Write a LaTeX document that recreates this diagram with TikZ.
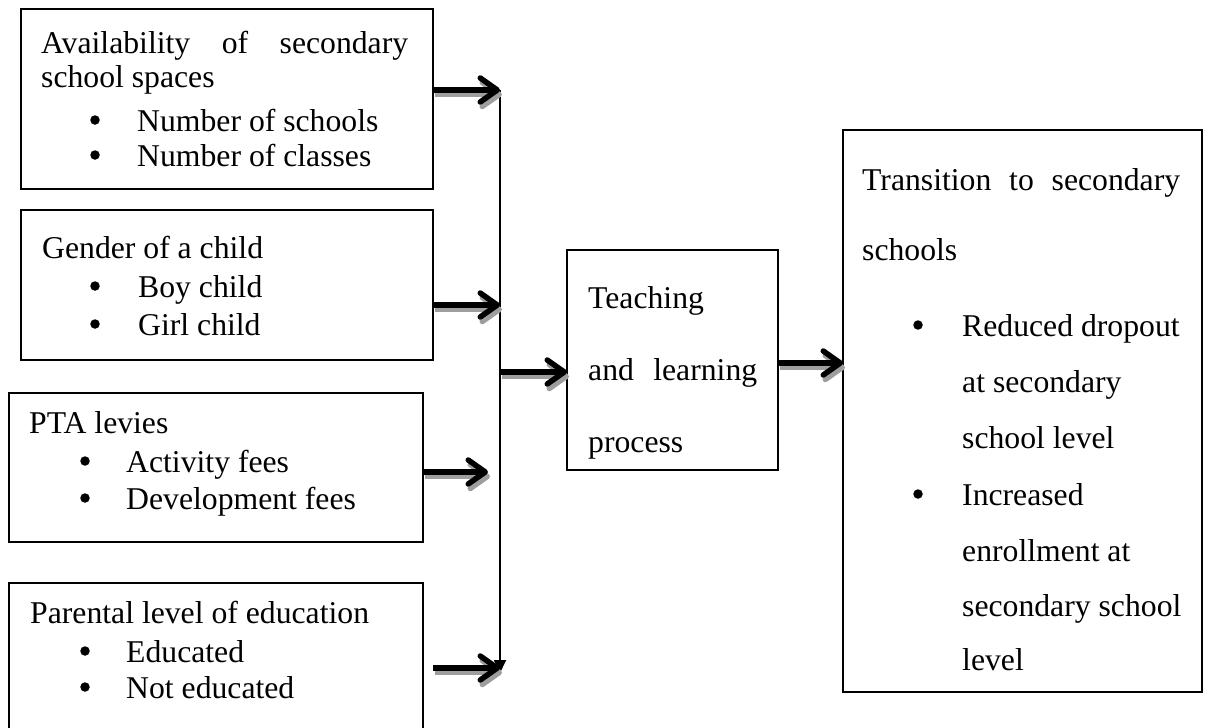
\documentclass[tikz,border=0pt]{standalone}
\usepackage{fontspec}
\setmainfont{Liberation Serif}
\usetikzlibrary{arrows.meta}
\begin{document}
\begin{tikzpicture}[x=1pt,y=-1pt,
  font=\fontsize{31.7}{38}\selectfont,
  box/.style={draw, line width=1.8pt, anchor=north west, inner sep=0pt, outer sep=0pt},
  txt/.style={anchor=base west, inner sep=0pt},
  dot/.style={circle, fill, inner sep=0pt, minimum size=9.5pt},
  fattip/.style={-{Straight Barb[length=17pt,width=24pt,round]}},
  fat/.style={line width=5.5pt, fattip,
    preaction={draw=black!38, line width=5.5pt, fattip,
      transform canvas={xshift=2pt,yshift=-4.5pt}}},
  bus/.style={line width=1.8pt, -{Triangle[length=13pt,width=12pt]}}
]
\clip (0,0) rectangle (1205,728);

% input factor boxes
\node[box, minimum width=412pt, minimum height=180pt] (avail)  at (21,9)   {};
\node[box, minimum width=412pt, minimum height=150pt] (gender) at (21,210) {};
\node[box, minimum width=414pt, minimum height=149pt] (pta)    at (9,393)  {};
\node[box, minimum width=414pt, minimum height=165pt] (parent) at (9,583)  {};
% process and outcome boxes
\node[box, minimum width=211pt, minimum height=220pt] (teach)  at (567,250) {};
\node[box, minimum width=359pt, minimum height=562pt] (trans)  at (843,130) {};

% texts of the first box
\node[txt] (a1) at (41,53)  {\hbox to 367pt{Availability\hfill of\hfill secondary}};
\node[txt] (a2) at (41,87)  {school spaces};
\node[dot] (ab1) at (95,120) {};
\node[txt] (a3) at (137,131) {Number of schools};
\node[dot] (ab2) at (95,155) {};
\node[txt] (a4) at (137,166) {Number of classes};

% gender
\node[txt] (g1) at (42,258)  {Gender of a child};
\node[dot] (gb1) at (95,286) {};
\node[txt] (g2) at (138,297) {Boy child};
\node[dot] (gb2) at (95,324) {};
\node[txt] (g3) at (138,335) {Girl child};

% PTA levies
\node[txt] (p1) at (29,433)  {PTA levies};
\node[dot] (pb1) at (85,461) {};
\node[txt] (p2) at (126,472) {Activity fees};
\node[dot] (pb2) at (85,498) {};
\node[txt] (p3) at (126,509) {Development fees};

% parental education
\node[txt] (e1) at (30,623)  {Parental level of education};
\node[dot] (eb1) at (85,651) {};
\node[txt] (e2) at (126,662) {Educated};
\node[dot] (eb2) at (85,687) {};
\node[txt] (e3) at (126,698) {Not educated};

% teaching and learning
\node[txt] (t1) at (588,308) {Teaching};
\node[txt] (t2) at (588,380) {\hbox to 169pt{and\hfill learning}};
\node[txt] (t3) at (588,452) {process};

% transition outcome
\node[txt] (r1) at (862,190) {\hbox to 318pt{Transition\hfill to\hfill secondary}};
\node[txt] (r2) at (862,260) {schools};
\node[dot] (rb1) at (918,325) {};
\node[txt] (r3) at (962,336) {Reduced dropout};
\node[txt] (r4) at (962,392) {at secondary};
\node[txt] (r5) at (962,448) {school level};
\node[dot] (rb2) at (918,494) {};
\node[txt] (r6) at (962,505) {Increased};
\node[txt] (r7) at (962,561) {enrollment at};
\node[txt] (r8) at (962,616) {secondary school};
\node[txt] (r9) at (962,670) {level};

% collecting line
\coordinate (bustop) at (500,90);
\coordinate (busend) at (500,673);
\draw[bus] (bustop) -- (busend);

% arrows into the collecting line
\coordinate (in2) at (500,305);
\coordinate (in3) at (488,472);
\coordinate (out4) at (433,668);
\coordinate (in4) at (500,668);
\draw[fat] (avail.east |- bustop) -- (bustop);
\draw[fat] (gender.east |- in2) -- (in2);
\draw[fat] (pta.east |- in3) -- (in3);
\draw[fat] (out4) -- (in4);

% arrows to process and outcome
\coordinate (out5) at (500,372);
\coordinate (lev6) at (800,363);
\draw[fat] (out5) -- (out5 -| teach.west);
\draw[fat] (teach.east |- lev6) -- (trans.west |- lev6);
\end{tikzpicture}
\end{document}
